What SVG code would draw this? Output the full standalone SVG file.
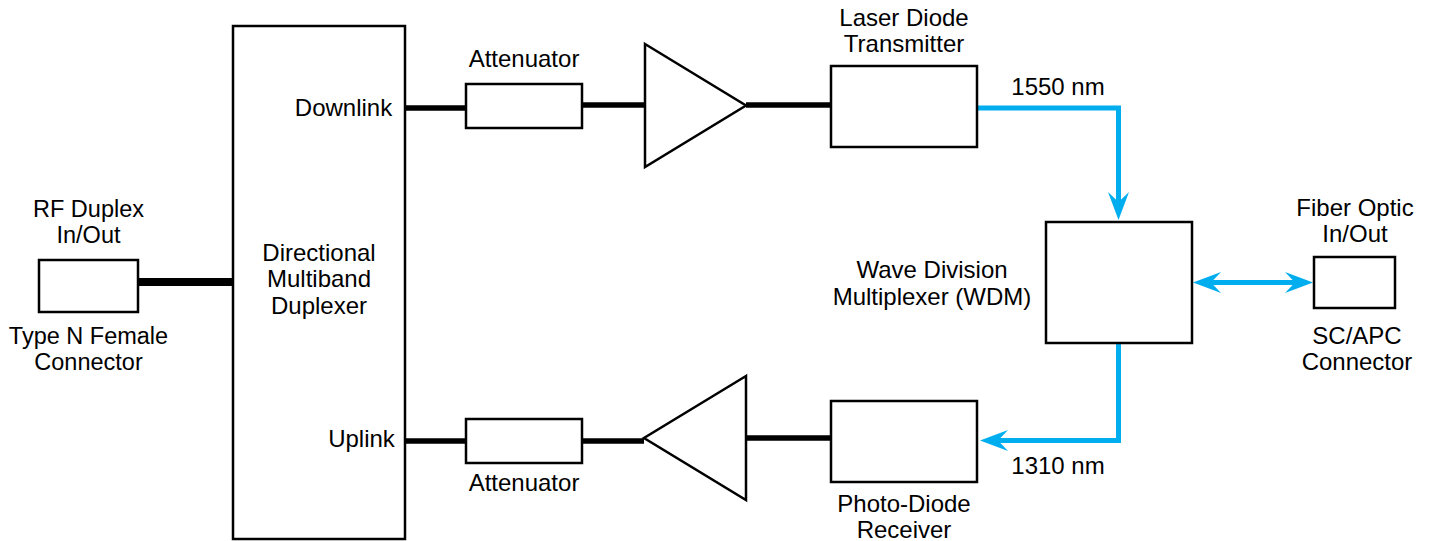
<svg xmlns="http://www.w3.org/2000/svg" width="1432" height="541" viewBox="0 0 1432 541">
<defs>
<marker id="ah" markerUnits="userSpaceOnUse" markerWidth="30" markerHeight="24" refX="18" refY="11" orient="auto-start-reverse"><path d="M0 0.500 L28 11 L0 21.500 L10 11 Z" fill="#00aeef"/></marker>
</defs>
<style>
.b{fill:#fff;stroke:#000;stroke-width:2.5}
.t{font-family:"Liberation Sans",Arial,sans-serif;font-size:24px;fill:#000;text-anchor:middle}
.n{font-size:23.500px}
.k{fill:none;stroke:#000;stroke-width:5.5}
.c{fill:none;stroke:#00aeef;stroke-width:5}
</style>
<g id="connectors">
<path class="k" style="stroke-width:8" d="M138 282H233"/>
<path class="k" d="M405 108H466M582 105H644M746 105H831M405 441H466M582 441H644M746 438H831"/>
<path class="c" d="M978 108H1118.500V210" marker-end="url(#ah)"/>
<path class="c" d="M1118.500 344V440.500H990" marker-end="url(#ah)"/>
<path class="c" d="M1203 282.500H1303" marker-start="url(#ah)" marker-end="url(#ah)"/>
</g>
<g id="rf"><rect class="b" x="39" y="260" width="99" height="52"/><text class="t n" x="88.500" y="217">RF Duplex</text><text class="t n" x="88.500" y="243">In/Out</text><text class="t n" x="88.500" y="344">Type N Female</text><text class="t n" x="88.500" y="370">Connector</text></g>
<g id="duplexer"><rect class="b" x="233" y="26" width="172" height="513"/><text class="t" x="319" y="261">Directional</text><text class="t" x="319" y="287">Multiband</text><text class="t" x="319" y="314">Duplexer</text><text class="t" x="343.500" y="116">Downlink</text><text class="t" x="361.500" y="447">Uplink</text></g>
<g id="att1"><rect class="b" x="466" y="84" width="116" height="44"/><text class="t" x="524" y="67">Attenuator</text></g>
<g id="att2"><rect class="b" x="466" y="419" width="116" height="44"/><text class="t" x="524" y="491">Attenuator</text></g>
<g id="amp1"><path class="b" d="M645 44L746 105.500L645 167Z"/></g>
<g id="amp2"><path class="b" d="M746 376L644 438L746 500Z"/></g>
<g id="laser"><rect class="b" x="831" y="66" width="146" height="81"/><text class="t" x="904" y="26">Laser Diode</text><text class="t" x="904" y="52">Transmitter</text><text class="t" x="1058" y="95">1550 nm</text></g>
<g id="receiver"><rect class="b" x="831" y="401" width="146" height="81"/><text class="t" x="904" y="512">Photo-Diode</text><text class="t" x="904" y="538">Receiver</text><text class="t" x="1058" y="474">1310 nm</text></g>
<g id="wdm"><rect class="b" x="1046" y="222" width="146" height="121"/><text class="t" x="932" y="278">Wave Division</text><text class="t" x="932" y="305">Multiplexer (WDM)</text></g>
<g id="sc"><rect class="b" x="1314" y="257" width="81" height="51"/><text class="t" x="1355" y="216">Fiber Optic</text><text class="t" x="1355" y="242">In/Out</text><text class="t" x="1357" y="344">SC/APC</text><text class="t" x="1357" y="370">Connector</text></g>
</svg>
